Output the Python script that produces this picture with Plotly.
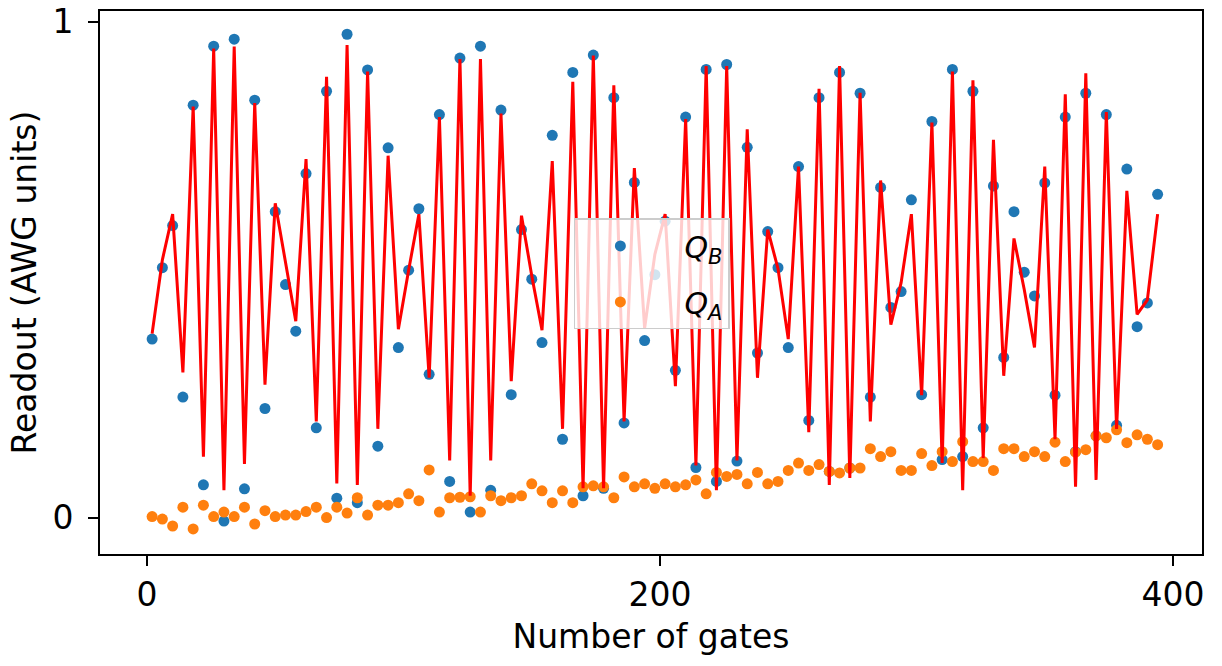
import plotly.graph_objects as go

# Gate counts at which the two qubits were read out
gates = list(range(2, 396, 4))

# Readout of qubit B (oscillating)
q_b = [0.360, 0.504, 0.589, 0.243, 0.832, 0.066, 0.951, -0.007, 0.965, 0.058,
       0.842, 0.220, 0.617, 0.470, 0.376, 0.694, 0.181, 0.860, 0.039, 0.975,
       0.030, 0.903, 0.144, 0.746, 0.343, 0.499, 0.623, 0.289, 0.813, 0.073,
       0.927, 0.011, 0.951, 0.055, 0.822, 0.248, 0.581, 0.481, 0.353, 0.771,
       0.158, 0.898, 0.044, 0.933, 0.059, 0.847, 0.191, 0.676, 0.357, 0.490,
       0.598, 0.297, 0.808, 0.101, 0.904, 0.073, 0.914, 0.114, 0.747, 0.332,
       0.577, 0.504, 0.343, 0.708, 0.196, 0.847, 0.093, 0.898, 0.100, 0.856,
       0.243, 0.666, 0.424, 0.456, 0.641, 0.248, 0.799, 0.117, 0.904, 0.123,
       0.860, 0.181, 0.669, 0.323, 0.617, 0.495, 0.447, 0.675, 0.247, 0.808,
       0.133, 0.856, 0.165, 0.813, 0.186, 0.703, 0.385, 0.433, 0.652]

# Readout of qubit A (slow drift)
q_a = [0.002, -0.003, -0.017, 0.021, -0.023, 0.025, 0.002, 0.011, 0.002, 0.021,
       -0.013, 0.014, 0.002, 0.005, 0.005, 0.012, 0.021, 0.000, 0.021, 0.009,
       0.040, 0.005, 0.025, 0.025, 0.030, 0.048, 0.034, 0.096, 0.011, 0.040,
       0.041, 0.042, 0.011, 0.044, 0.034, 0.040, 0.044, 0.068, 0.054, 0.030,
       0.054, 0.030, 0.062, 0.064, 0.062, 0.040, 0.082, 0.062, 0.068, 0.059,
       0.068, 0.062, 0.066, 0.076, 0.048, 0.091, 0.083, 0.087, 0.068, 0.091,
       0.068, 0.073, 0.095, 0.110, 0.095, 0.107, 0.093, 0.090, 0.100, 0.100,
       0.139, 0.123, 0.133, 0.095, 0.095, 0.129, 0.105, 0.133, 0.113, 0.153,
       0.113, 0.113, 0.095, 0.139, 0.139, 0.123, 0.133, 0.123, 0.152, 0.113,
       0.132, 0.137, 0.165, 0.161, 0.177, 0.151, 0.167, 0.158, 0.147]

# Fitted model for qubit B, evaluated at the same gate counts
fit_b = [0.371, 0.520, 0.612, 0.293, 0.829, 0.123, 0.946, 0.055, 0.950, 0.108,
         0.836, 0.268, 0.634, 0.517, 0.396, 0.723, 0.194, 0.889, 0.069, 0.953,
         0.066, 0.900, 0.179, 0.730, 0.380, 0.499, 0.612, 0.282, 0.808, 0.115,
         0.925, 0.044, 0.925, 0.115, 0.815, 0.275, 0.609, 0.488, 0.378, 0.719,
         0.179, 0.879, 0.059, 0.932, 0.059, 0.872, 0.194, 0.705, 0.382, 0.531,
         0.612, 0.265, 0.804, 0.105, 0.911, 0.055, 0.911, 0.115, 0.783, 0.282,
         0.581, 0.502, 0.360, 0.708, 0.172, 0.865, 0.066, 0.911, 0.080, 0.857,
         0.194, 0.680, 0.389, 0.474, 0.612, 0.247, 0.797, 0.110, 0.900, 0.055,
         0.882, 0.120, 0.762, 0.286, 0.563, 0.460, 0.343, 0.708, 0.158, 0.854,
         0.062, 0.896, 0.076, 0.818, 0.179, 0.659, 0.410, 0.439, 0.612]

x_ticks = [0, 200, 400]
y_ticks = [0, 1]

FONT = "DejaVu Sans"
FS = 33

fig = go.Figure()
fig.add_trace(go.Scatter(
    x=gates, y=q_b, mode="markers", name="\u00a0\u00a0<i>Q<sub>B</sub></i>",
    legendgroup="qb",
    marker=dict(color="#1f77b4", size=11, line=dict(width=0)),
))
fig.add_trace(go.Scatter(
    x=gates, y=q_a, mode="markers", name="\u00a0\u00a0<i>Q<sub>A</sub></i>",
    legendgroup="qa",
    marker=dict(color="#ff7f0e", size=11, line=dict(width=0)),
))
fig.add_trace(go.Scatter(
    x=gates, y=fit_b, mode="lines", showlegend=False,
    line=dict(color="red", width=3),
))

axis_common = dict(
    showgrid=False, zeroline=False,
    showline=True, linecolor="black", linewidth=2, mirror=True,
    ticks="outside", ticklen=10, tickwidth=2, tickcolor="black",
    tickfont=dict(family=FONT, size=FS, color="black"),
    ticklabeloverflow="allow",
)

fig.update_layout(
    width=1222, height=666,
    margin=dict(l=100, r=20, t=3, b=112),
    paper_bgcolor="white", plot_bgcolor="white",
    font=dict(family=FONT, size=FS, color="black"),
    xaxis=dict(range=[-18.32, 411.3], tickvals=x_ticks,
               title=dict(text="Number of gates", standoff=12,
                          font=dict(family=FONT, size=FS)),
               **axis_common),
    yaxis=dict(range=[-0.0735, 1.0219], tickvals=y_ticks,
               ticklabelstandoff=8,
               title=dict(text="Readout (AWG units)", standoff=6,
                          font=dict(family=FONT, size=FS)),
               **axis_common),
    legend=dict(
        x=0.430, y=0.618, xanchor="left", yanchor="top",
        bgcolor="rgba(255,255,255,0.8)", bordercolor="#cccccc", borderwidth=1.5,
        font=dict(family=FONT, size=30, color="black"),
        itemwidth=80, tracegroupgap=14,
    ),
    showlegend=True,
)

fig.write_html("out.html")
